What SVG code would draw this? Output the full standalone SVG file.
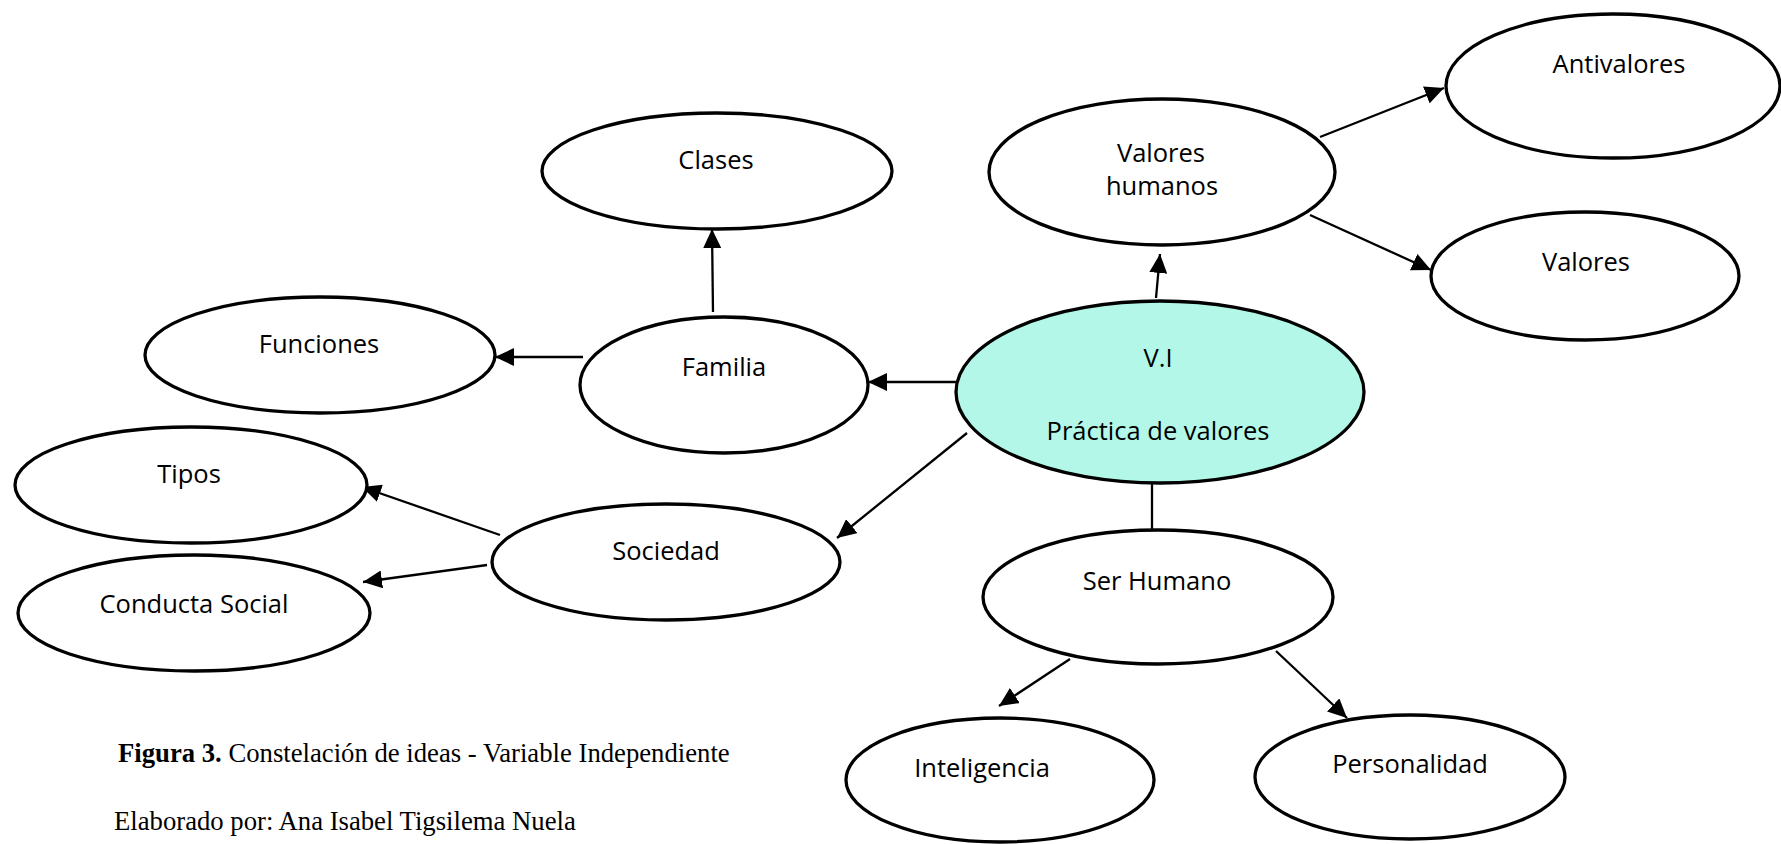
<svg xmlns="http://www.w3.org/2000/svg" width="1781" height="844" viewBox="0 0 1781 844">
<defs>
<style>
.node ellipse{fill:#ffffff;stroke:#000000;stroke-width:3.3}
.node.main ellipse{fill:#b3f7e9}
.lbl{font-family:"Open Sans","Liberation Sans",sans-serif;font-size:25.5px;fill:#000000;text-anchor:middle}
.conn line{stroke:#000000;stroke-width:2.3}
.cap{font-family:"Liberation Serif","Times New Roman",serif;font-size:26.7px;fill:#000000}
</style>
<marker id="arr" markerUnits="userSpaceOnUse" markerWidth="20" markerHeight="18" viewBox="0 0 20 18" refX="19" refY="9" orient="auto">
<path d="M0,0 L19,9 L0,18 Z" fill="#000000"/>
</marker>
</defs>
<rect x="0" y="0" width="1781" height="844" fill="#ffffff"/>

<g id="connectors" class="conn">
<line x1="956" y1="382" x2="868" y2="382" marker-end="url(#arr)"/>
<line x1="583" y1="357" x2="495" y2="357" marker-end="url(#arr)"/>
<line x1="713" y1="312" x2="712" y2="229" marker-end="url(#arr)"/>
<line x1="967" y1="433" x2="837" y2="538" marker-end="url(#arr)"/>
<line x1="500" y1="535" x2="362" y2="487" marker-end="url(#arr)"/>
<line x1="487" y1="565" x2="363" y2="582" marker-end="url(#arr)"/>
<line x1="1156" y1="298" x2="1160" y2="254" marker-end="url(#arr)"/>
<line x1="1320" y1="137" x2="1444" y2="88" marker-end="url(#arr)"/>
<line x1="1310" y1="215" x2="1431" y2="270" marker-end="url(#arr)"/>
<line x1="1152" y1="481" x2="1152" y2="530"/>
<line x1="1070" y1="659" x2="999" y2="706" marker-end="url(#arr)"/>
<line x1="1276" y1="651" x2="1347" y2="718" marker-end="url(#arr)"/>
</g>

<g id="node-antivalores" class="node"><ellipse cx="1613" cy="86" rx="167" ry="72"/><text class="lbl" x="1619" y="73">Antivalores</text></g>
<g id="node-valores-humanos" class="node"><ellipse cx="1162" cy="172" rx="173" ry="73"/><text class="lbl" x="1161" y="162">Valores</text><text class="lbl" x="1162" y="195">humanos</text></g>
<g id="node-valores" class="node"><ellipse cx="1585" cy="276" rx="154" ry="64"/><text class="lbl" x="1586" y="271">Valores</text></g>
<g id="node-clases" class="node"><ellipse cx="717" cy="171" rx="175" ry="58"/><text class="lbl" x="716" y="169">Clases</text></g>
<g id="node-funciones" class="node"><ellipse cx="320" cy="355" rx="175" ry="58"/><text class="lbl" x="319" y="353">Funciones</text></g>
<g id="node-familia" class="node"><ellipse cx="724" cy="385" rx="144" ry="68"/><text class="lbl" x="724" y="376">Familia</text></g>
<g id="node-vi" class="node main"><ellipse cx="1160" cy="392" rx="204" ry="91"/><text class="lbl" x="1158" y="367">V.I</text><text class="lbl" x="1158" y="440">Práctica de valores</text></g>
<g id="node-tipos" class="node"><ellipse cx="191" cy="485" rx="176" ry="58"/><text class="lbl" x="189" y="483">Tipos</text></g>
<g id="node-conducta" class="node"><ellipse cx="194" cy="613" rx="176" ry="58"/><text class="lbl" x="194" y="613">Conducta Social</text></g>
<g id="node-sociedad" class="node"><ellipse cx="666" cy="562" rx="174" ry="58"/><text class="lbl" x="666" y="560">Sociedad</text></g>
<g id="node-ser-humano" class="node"><ellipse cx="1158" cy="597" rx="175" ry="67"/><text class="lbl" x="1157" y="590">Ser Humano</text></g>
<g id="node-inteligencia" class="node"><ellipse cx="1000" cy="780" rx="154" ry="62"/><text class="lbl" x="982" y="777">Inteligencia</text></g>
<g id="node-personalidad" class="node"><ellipse cx="1410" cy="777" rx="155" ry="62"/><text class="lbl" x="1410" y="773">Personalidad</text></g>

<g id="caption">
<text class="cap" x="118" y="762"><tspan font-weight="bold">Figura 3.</tspan> Constelación de ideas - Variable Independiente</text>
<text class="cap" x="114" y="830">Elaborado por: Ana Isabel Tigsilema Nuela</text>
</g>
</svg>
